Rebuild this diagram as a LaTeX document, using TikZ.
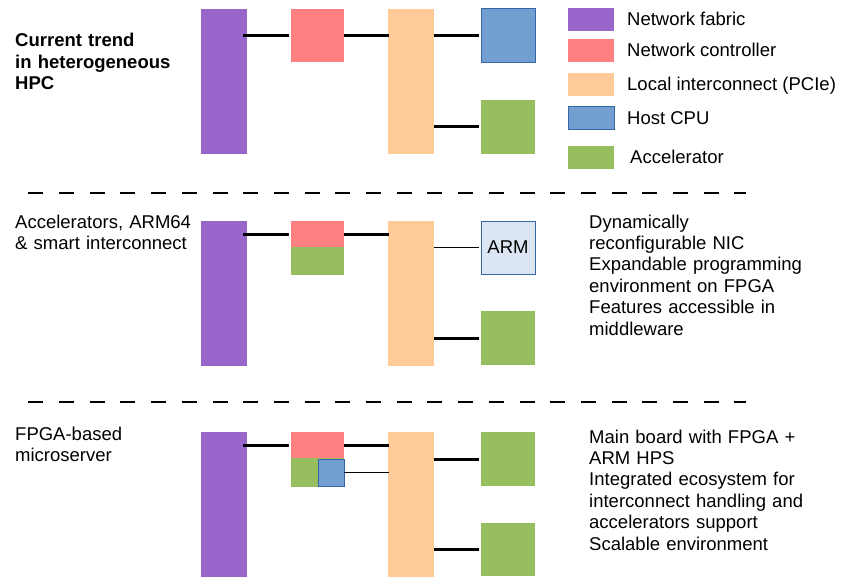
\documentclass[tikz,border=0pt]{standalone}
\usepackage{fontspec}
\setmainfont{Liberation Sans}
\usetikzlibrary{positioning}

\definecolor{fabriccol}{HTML}{9966CC}
\definecolor{ctrlcol}{HTML}{FF8080}
\definecolor{pciecol}{HTML}{FFCB99}
\definecolor{cpucol}{HTML}{729FCF}
\definecolor{cpuedge}{HTML}{3465A4}
\definecolor{accelcol}{HTML}{96BD5E}
\definecolor{armcol}{HTML}{DCE6F2}

\tikzset{
  blk/.style={rectangle, inner sep=0pt, outer sep=0pt, anchor=north west},
  fabric/.style={blk, fill=fabriccol, minimum width=46pt, minimum height=145pt},
  pcie/.style={blk, fill=pciecol, minimum width=46pt, minimum height=145pt},
  ctrl/.style={blk, fill=ctrlcol, minimum width=53pt, minimum height=#1},
  ctrl/.default=53pt,
  accel/.style={blk, fill=accelcol, minimum width=54pt, minimum height=#1},
  accel/.default=54pt,
  cpu/.style={blk, fill=cpucol, draw=cpuedge, line width=1pt, minimum width=54pt, minimum height=54pt},
  armbox/.style={blk, fill=armcol, draw=cpuedge, line width=1pt, minimum width=54pt, minimum height=53pt},
  swatch/.style={blk, minimum width=46pt, minimum height=23pt},
  txt/.style={inner sep=0pt, anchor=base west, align=left},
  legtxt/.style={inner sep=0pt, text height=13pt, text depth=1pt},
  bus/.style={line width=3pt},
  link/.style={line width=1pt},
  sepline/.style={line width=1.3pt, dash pattern=on 15pt off 15.7pt}
}

\begin{document}
\begin{tikzpicture}[x=1pt, y=-1pt, font=\fontsize{18.5}{21.4}\selectfont]
    \useasboundingbox (0,0) rectangle (850,588);

    % current trend
    \node[txt, text width=190pt] (lab1) at (15,47) {\bfseries Current trend\\in heterogeneous\\HPC};
    \node[fabric] (fab1) at (201,9) {};
    \node[ctrl] (ctl1) at (291,9) {};
    \node[pcie] (pci1) at (388,9) {};
    \node[cpu] (cpu1) at (481,9) {};
    \node[accel] (acc1) at (481,100) {};
    \draw[bus] ([xshift=-4pt]fab1.east |- ctl1.west) -- ([xshift=-2pt]ctl1.west);
    \draw[bus] (ctl1.east) -- ([xshift=1pt]pci1.west |- ctl1.east);
    \draw[bus] (pci1.east |- cpu1.west) -- ([xshift=-2pt]cpu1.west);
    \draw[bus] (pci1.east |- acc1.west) -- ([xshift=-2pt]acc1.west);

    % legend
    \node[swatch, fill=fabriccol] (sw1) at (568,8) {};
    \node[swatch, fill=ctrlcol] (sw2) at (568,39) {};
    \node[swatch, fill=pciecol] (sw3) at (568,73) {};
    \node[swatch, fill=cpucol, draw=cpuedge, line width=1pt] (sw4) at (568,107) {};
    \node[swatch, fill=accelcol] (sw5) at (568,146) {};
    \node[legtxt, right=13pt of sw1] (leg1) {Network fabric};
    \node[legtxt, right=13pt of sw2] (leg2) {Network controller};
    \node[legtxt, right=13pt of sw3] (leg3) {Local interconnect (PCIe)};
    \node[legtxt, right=13pt of sw4] (leg4) {Host CPU};
    \node[legtxt, right=16pt of sw5] (leg5) {Accelerator};

    \draw[sepline] (28.3,193) -- (746,193);

    % smart interconnect
    \node[txt, text width=190pt] (lab2) at (15,228) {Accelerators, ARM64\\\& smart interconnect};
    \node[fabric] (fab2) at (201,221) {};
    \node[ctrl=26pt] (ctl2) at (291,221) {};
    \node[accel=28pt, minimum width=53pt] (nacc2) at (291,247) {};
    \node[pcie] (pci2) at (388,221) {};
    \node[armbox] (arm2) at (481,221) {};
    \node at (arm2.center) {ARM};
    \node[accel] (acc2) at (481,311) {};
    \draw[bus] ([xshift=-4pt]fab2.east |- ctl2.west) -- ([xshift=-2pt]ctl2.west);
    \draw[bus] (ctl2.east) -- ([xshift=1pt]pci2.west |- ctl2.east);
    \draw[link] (pci2.east |- arm2.west) -- ([xshift=-2pt]arm2.west);
    \draw[bus] (pci2.east |- acc2.west) -- ([xshift=-2pt]acc2.west);
    \node[txt, text width=250pt] (txt2) at (589,228) {Dynamically\\reconfigurable NIC\\Expandable programming\\environment on FPGA\\Features accessible in\\middleware};

    \draw[sepline] (28.3,402) -- (746,402);

    % microserver
    \node[txt, text width=190pt] (lab3) at (15,440) {FPGA-based\\microserver};
    \node[fabric] (fab3) at (201,432) {};
    \node[ctrl=26pt] (ctl3) at (291,432) {};
    \node[accel=29pt, minimum width=53pt] (nacc3) at (291,458) {};
    \node[cpu, minimum width=26pt, minimum height=27pt] (hps3) at (318,459) {};
    \node[pcie] (pci3) at (388,432) {};
    \node[accel] (acc3) at (481,432) {};
    \node[accel=53pt] (acc4) at (481,523) {};
    \draw[bus] ([xshift=-4pt]fab3.east |- ctl3.west) -- ([xshift=-2pt]ctl3.west);
    \draw[bus] (ctl3.east) -- ([xshift=1pt]pci3.west |- ctl3.east);
    \draw[link] (hps3.east) -- ([xshift=1pt]pci3.west |- hps3.east);
    \draw[bus] (pci3.east |- acc3.west) -- ([xshift=-2pt]acc3.west);
    \draw[bus] (pci3.east |- acc4.west) -- ([xshift=-2pt]acc4.west);
    \node[txt, text width=250pt] (txt3) at (589,443) {Main board with FPGA +\\ARM HPS\\Integrated ecosystem for\\interconnect handling and\\accelerators support\\Scalable environment};
\end{tikzpicture}
\end{document}
